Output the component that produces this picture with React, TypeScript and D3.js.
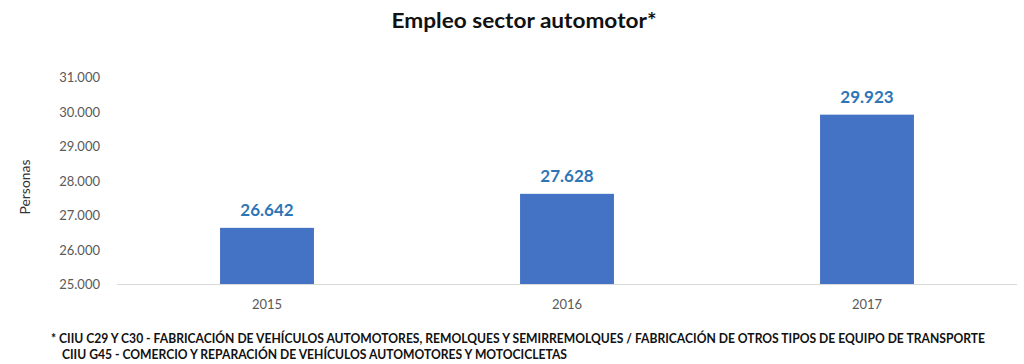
import React, { useEffect, useRef } from 'react';
import * as d3 from 'd3';

// Empleo sector automotor — bar chart
const years = ['2015', '2016', '2017'];
const employment = [26642, 27628, 29923];
const yTicks = [25000, 26000, 27000, 28000, 29000, 30000, 31000];
const footnotes = [
  '* CIIU C29 Y C30 - FABRICACIÓN DE VEHÍCULOS AUTOMOTORES, REMOLQUES Y SEMIRREMOLQUES / FABRICACIÓN DE OTROS TIPOS DE EQUIPO DE TRANSPORTE',
  'CIIU G45 - COMERCIO Y REPARACIÓN DE VEHÍCULOS AUTOMOTORES Y MOTOCICLETAS',
];

const fmt = (v: number) => d3.format(',d')(v).replace(/,/g, '.');

export default function App() {
  const ref = useRef<SVGSVGElement | null>(null);

  useEffect(() => {
    const svg = d3.select(ref.current);
    svg.selectAll('*').remove();
    const font = 'Lato, "Open Sans", sans-serif';

    const x = d3.scaleBand<string>().domain(years).range([117, 1017]).paddingInner(0.687).paddingOuter(0.3435);
    const y = d3.scaleLinear().domain([25000, 31000]).range([284.5, 77.5]);

    // title
    svg.append('text')
      .attr('x', 524).attr('y', 28)
      .attr('text-anchor', 'middle')
      .attr('font-family', font).attr('font-weight', 700).attr('font-size', 20)
      .attr('fill', '#111')
      .attr('textLength', 265).attr('lengthAdjust', 'spacingAndGlyphs')
      .text('Empleo sector automotor*');

    // y tick labels
    svg.append('g').selectAll('text').data(yTicks).join('text')
      .attr('x', 100).attr('y', (d) => y(d)).attr('dy', '0.35em')
      .attr('text-anchor', 'end')
      .attr('font-family', font).attr('font-size', 13).attr('fill', '#595959')
      .text((d) => fmt(d));

    // y axis title
    svg.append('text')
      .attr('transform', 'translate(30,187) rotate(-90)')
      .attr('text-anchor', 'middle')
      .attr('font-family', font).attr('font-size', 13).attr('fill', '#333')
      .attr('textLength', 55).attr('lengthAdjust', 'spacingAndGlyphs')
      .text('Personas');

    // bars
    svg.append('g').selectAll('rect').data(employment).join('rect')
      .attr('x', (_, i) => x(years[i])!)
      .attr('width', x.bandwidth())
      .attr('y', (d) => y(d))
      .attr('height', (d) => y(25000) - y(d))
      .attr('fill', '#4472c4');

    // baseline
    svg.append('line')
      .attr('x1', 117).attr('x2', 1017)
      .attr('y1', y(25000)).attr('y2', y(25000))
      .attr('stroke', '#d9d9d9').attr('stroke-width', 1.2);

    // value labels
    svg.append('g').selectAll('text').data(employment).join('text')
      .attr('x', (_, i) => x(years[i])! + x.bandwidth() / 2)
      .attr('y', (d) => y(d) - 12)
      .attr('text-anchor', 'middle')
      .attr('font-family', font).attr('font-weight', 700).attr('font-size', 17)
      .attr('fill', '#2e75b6')
      .text((d) => fmt(d));

    // x labels
    svg.append('g').selectAll('text').data(years).join('text')
      .attr('x', (d) => x(d)! + x.bandwidth() / 2)
      .attr('y', 309)
      .attr('text-anchor', 'middle')
      .attr('font-family', font).attr('font-size', 13).attr('fill', '#595959')
      .text((d) => d);

    // footnotes
    svg.append('text')
      .attr('x', 51).attr('y', 343)
      .attr('font-family', font).attr('font-weight', 700).attr('font-size', 12.5).attr('fill', '#111')
      .attr('textLength', 934).attr('lengthAdjust', 'spacingAndGlyphs')
      .text(footnotes[0]);
    svg.append('text')
      .attr('x', 62).attr('y', 359)
      .attr('font-family', font).attr('font-weight', 700).attr('font-size', 12.5).attr('fill', '#111')
      .attr('textLength', 505).attr('lengthAdjust', 'spacingAndGlyphs')
      .text(footnotes[1]);
  }, []);

  return (
    <svg
      ref={ref}
      width={1024}
      height={364}
      style={{ position: 'absolute', left: 0, top: 0, background: '#fff' }}
    />
  );
}
